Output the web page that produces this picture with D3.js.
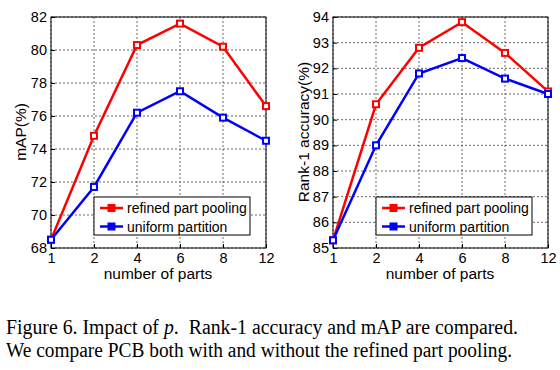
<!DOCTYPE html>
<html>
<head>
<meta charset="utf-8">
<script src="https://cdn.jsdelivr.net/npm/d3@7"></script>
<style>
body { margin: 0; background: #fff; }
svg { display: block; }
</style>
</head>
<body>
<div id="figure"></div>
<script>
var parts = ["1", "2", "4", "6", "8", "12"];
var seriesNames = ["refined part pooling", "uniform partition"];
var seriesColors = ["#ff0000", "#0000ff"];

var mapRefined = [68.5, 74.8, 80.3, 81.6, 80.2, 76.6];
var mapUniform = [68.5, 71.7, 76.2, 77.5, 75.9, 74.5];
var mapTicks = [68, 70, 72, 74, 76, 78, 80, 82];

var rankRefined = [85.3, 90.6, 92.8, 93.8, 92.6, 91.1];
var rankUniform = [85.3, 89.0, 91.8, 92.4, 91.6, 91.0];
var rankTicks = [85, 86, 87, 88, 89, 90, 91, 92, 93, 94];

// morceaux de légende : [texte, italique]
var captionLines = [
    [["Figure 6. Impact of ", false], ["p", true], [".  Rank-1 accuracy and mAP are compared.", false]],
    [["We compare PCB both with and without the refined part pooling.", false]]
];
var captionWidths = [512, 506];

var police = "Liberation Sans, Arial, sans-serif";
var svg = d3.select("#figure").append("svg").attr("width", 560).attr("height", 370);

function dessineGraphe(gauche, series, ticks, titreY, yTitreX) {
    var x = d3.scalePoint().domain(parts).range([gauche, gauche + 215]);
    var y = d3.scaleLinear().domain([ticks[0], ticks[ticks.length - 1]]).range([248, 17]);
    var g = svg.append("g");

    // grille pointillée
    g.selectAll(".gx").data(parts).enter().append("line")
        .attr("x1", function(d) { return x(d); }).attr("x2", function(d) { return x(d); })
        .attr("y1", 17).attr("y2", 248)
        .attr("stroke", "#444").attr("stroke-width", 0.8).attr("stroke-dasharray", "2,2");
    g.selectAll(".gy").data(ticks).enter().append("line")
        .attr("x1", gauche).attr("x2", gauche + 215)
        .attr("y1", function(d) { return y(d); }).attr("y2", function(d) { return y(d); })
        .attr("stroke", "#444").attr("stroke-width", 0.8).attr("stroke-dasharray", "2,2");

    g.append("rect").attr("x", gauche).attr("y", 17).attr("width", 215).attr("height", 231)
        .attr("fill", "none").attr("stroke", "#000").attr("stroke-width", 1);

    var axeX = g.append("g").attr("transform", "translate(0,248)")
        .call(d3.axisBottom(x).tickSize(-4).tickPadding(5));
    var axeY = g.append("g").attr("transform", "translate(" + gauche + ",0)")
        .call(d3.axisLeft(y).tickValues(ticks).tickSize(-4).tickPadding(4));
    [axeX, axeY].forEach(function(a) {
        a.select(".domain").remove();
        a.selectAll("text").attr("font-family", police)
            .attr("font-size", 14.5).attr("fill", "#000");
    });

    var ligne = d3.line().x(function(d, i) { return x(parts[i]); }).y(function(d) { return y(d); });
    series.forEach(function(s, k) {
        g.append("path").datum(s).attr("d", ligne)
            .attr("fill", "none").attr("stroke", seriesColors[k]).attr("stroke-width", 2.5);
        g.selectAll(".m" + k).data(s).enter().append("rect")
            .attr("x", function(d, i) { return x(parts[i]) - 3; })
            .attr("y", function(d) { return y(d) - 3; })
            .attr("width", 6).attr("height", 6)
            .attr("fill", "#fff").attr("stroke", seriesColors[k]).attr("stroke-width", 2);
    });

    // légende
    var lx = gauche + 43;
    g.append("rect").attr("x", lx).attr("y", 197).attr("width", 156).attr("height", 38)
        .attr("fill", "#fff").attr("stroke", "#000").attr("stroke-width", 1);
    seriesNames.forEach(function(nom, k) {
        var ly = 208 + k * 18.5;
        g.append("line").attr("x1", lx + 6).attr("x2", lx + 29).attr("y1", ly).attr("y2", ly)
            .attr("stroke", seriesColors[k]).attr("stroke-width", 2.5);
        g.append("rect").attr("x", lx + 14.5).attr("y", ly - 3).attr("width", 6).attr("height", 6)
            .attr("fill", seriesColors[k]).attr("stroke", seriesColors[k]).attr("stroke-width", 2);
        g.append("text").attr("x", lx + 33).attr("y", ly + 5).text(nom)
            .attr("font-family", police).attr("font-size", 14);
    });

    g.append("text").attr("x", gauche + 107).attr("y", 279).attr("text-anchor", "middle")
        .text("number of parts")
        .attr("font-family", police).attr("font-size", 15.5);
    g.append("text").attr("transform", "translate(" + yTitreX + ",132) rotate(-90)")
        .attr("text-anchor", "middle").text(titreY)
        .attr("font-family", police).attr("font-size", 15.5);
}

dessineGraphe(51, [mapRefined, mapUniform], mapTicks, "mAP(%)", 26);
dessineGraphe(333, [rankRefined, rankUniform], rankTicks, "Rank-1 accuracy(%)", 309);

captionLines.forEach(function(morceaux, i) {
    var t = svg.append("text").attr("x", 6).attr("y", 334 + i * 22.5)
        .attr("font-family", "Liberation Serif, Times New Roman, serif").attr("font-size", 20)
        .attr("textLength", captionWidths[i]).attr("lengthAdjust", "spacingAndGlyphs");
    t.selectAll("tspan").data(morceaux).enter().append("tspan")
        .attr("font-style", function(d) { return d[1] ? "italic" : "normal"; })
        .attr("xml:space", "preserve")
        .text(function(d) { return d[0]; });
});
</script>
</body>
</html>
